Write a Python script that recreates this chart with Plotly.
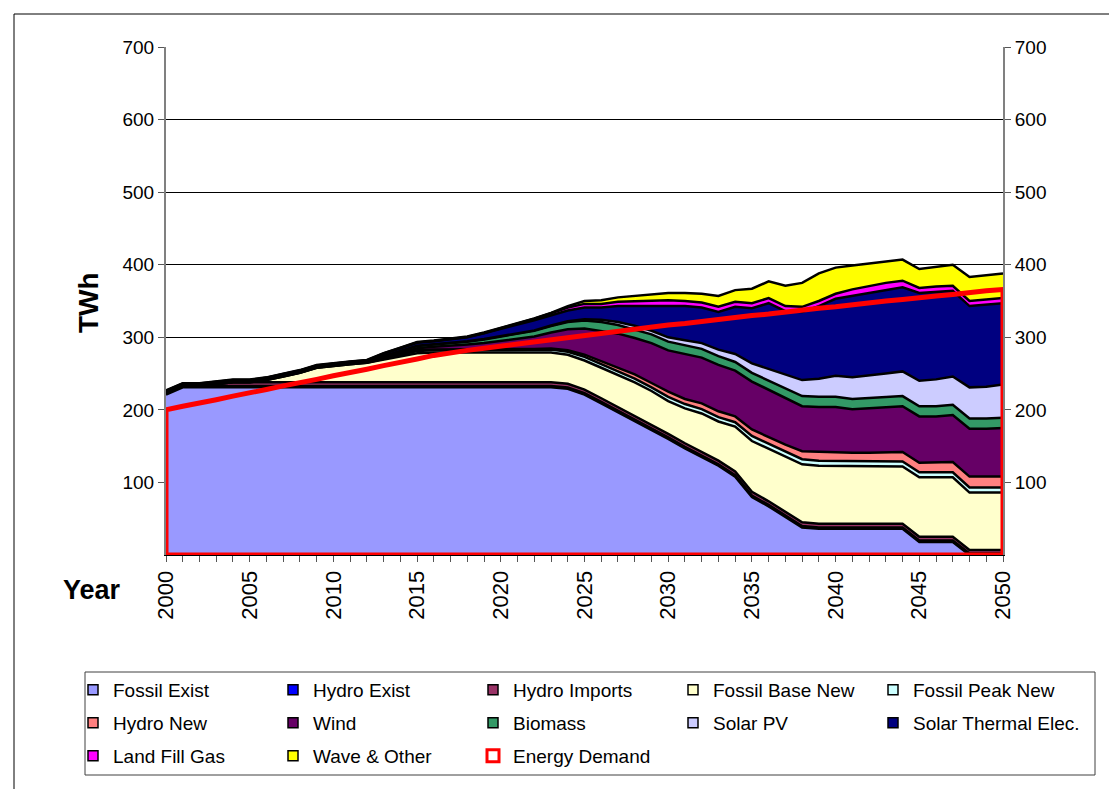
import plotly.graph_objects as go

years = list(range(2000, 2051))

fossil_exist = [221, 231, 231, 231, 231, 231, 231, 231, 231, 231,
                231, 231, 231, 231, 231, 231, 231, 231, 231, 231,
                231, 231, 231, 231, 229, 221, 209, 197, 185, 172,
                160, 147, 135, 123, 108, 80, 67, 53, 38, 36,
                36, 36, 36, 36, 36, 18, 18, 18, 0, 0,
                0]
hydro_exist = [2, 2, 2, 2, 2, 2, 2, 2, 2, 2,
               2, 2, 2, 2, 2, 2, 2, 2, 2, 2,
               2, 2, 2, 2, 2, 2, 2, 2, 2, 2,
               2, 2, 2, 2, 2, 2, 2, 2, 2, 2,
               2, 2, 2, 2, 2, 2, 2, 2, 2, 2,
               2]
hydro_imports = [0, 0, 0, 2, 5, 5, 5, 5, 5, 5,
                 5, 5, 5, 5, 5, 5, 5, 5, 5, 5,
                 5, 5, 5, 5, 5, 5, 5, 5, 5, 5,
                 5, 5, 5, 5, 5, 5, 5, 5, 5, 5,
                 5, 5, 5, 5, 5, 5, 5, 5, 5, 5,
                 5]
fossil_base_new = [0, 0, 0, 0, 0, 0, 3, 8, 13, 20,
                   23, 25, 27, 31, 35, 40, 41, 41, 41, 41,
                   41, 41, 41, 41, 40, 40, 42, 44, 46, 47,
                   45, 48, 53, 54, 62, 70, 72, 75, 80, 80,
                   80, 79, 79, 79, 79, 82, 82, 82, 79, 79,
                   79]
fossil_peak_new = [0, 0, 0, 0, 0, 0, 0, 0, 0, 0,
                   0, 0, 0, 1, 2, 3, 3, 3, 3, 3,
                   3, 4, 4, 4, 4, 5, 5, 5, 5, 5,
                   6, 6, 6, 6, 6, 7, 7, 7, 7, 7,
                   7, 7, 7, 7, 7, 7, 7, 7, 7, 7,
                   7]
hydro_new = [0.5, 0.5, 0.5, 0.5, 0.5, 0.5, 0.5, 0.5, 0.5, 0.5,
             0.5, 0.5, 0.5, 0.7, 0.8, 1, 1, 1, 1, 1,
             1, 1, 1, 1.5, 2, 3, 4, 5, 6, 6,
             7, 7, 8, 8, 8, 9, 9, 10, 11, 12,
             12, 12, 12, 12, 13, 13, 13, 14, 15, 15,
             15]
wind = [0.6, 0.6, 0.6, 0.6, 0.6, 0.6, 0.6, 0.6, 0.6, 0.6,
        0.6, 0.6, 0.6, 1.5, 2.2, 3, 4, 5, 7, 9,
        12, 14, 17, 22, 29, 36, 42, 47, 50, 55,
        57, 62, 63, 64, 63, 66, 66, 65, 62, 62,
        62, 60, 61, 62, 63, 64, 64, 65, 66, 66,
        67]
biomass = [0.6, 0.6, 0.6, 0.6, 0.6, 0.6, 0.6, 0.6, 0.6, 0.6,
           0.6, 0.6, 0.6, 1.5, 2.2, 3, 3, 3.5, 4, 5,
           6, 7, 8, 9, 10, 11, 12, 12, 12, 12,
           12, 12, 12, 12, 12, 12, 12, 12, 14, 14,
           14, 14, 14, 14, 14, 14, 14, 14, 14, 14,
           14]
solar_pv = [0.5, 0.5, 0.5, 0.5, 0.5, 0.5, 0.5, 0.5, 0.5, 0.5,
            0.5, 0.5, 0.5, 0.5, 0.5, 0.5, 0.5, 0.5, 0.5, 0.5,
            0.5, 0.5, 0.5, 0.7, 1, 2, 3, 4, 5, 5,
            6, 7, 8, 9, 11, 13, 16, 19, 22, 25,
            29, 30, 31, 33, 34, 35, 37, 39, 43, 44,
            46]
solar_thermal = [0.6, 0.6, 0.6, 0.6, 0.6, 0.6, 0.6, 0.6, 0.6, 0.6,
                 0.6, 0.6, 0.6, 3, 4, 4, 4, 5, 5.5, 8,
                 10.5, 12, 14, 14, 15, 16, 17, 22, 27, 34,
                 44, 47, 49, 52, 65, 76, 91, 88, 94, 100,
                 106, 112, 115, 116, 116, 121, 121, 118, 112, 113,
                 112]
land_fill_gas = [0.5, 0.5, 0.5, 0.5, 0.5, 0.5, 0.5, 0.5, 0.5, 0.5,
                 0.5, 0.5, 0.5, 0.5, 0.5, 0.5, 0.5, 0.5, 0.5, 0.5,
                 0.5, 1, 2, 3, 4, 5, 5, 6, 7, 7,
                 7, 7, 7, 7, 7, 7, 7, 7, 7, 7,
                 7, 9, 9, 9, 9, 7, 7, 7, 7, 7,
                 7]
wave_other = [0.5, 0.5, 0.5, 0.5, 0.5, 0.5, 0.5, 0.5, 0.5, 0.5,
              0.5, 0.5, 0.5, 0.5, 0.5, 0.5, 0.5, 0.5, 0.5, 0.5,
              0.5, 0.5, 0.5, 0.5, 2, 4, 5, 6, 7, 8,
              10, 11, 12, 15, 16, 20, 23, 28, 33, 38,
              36, 33, 31, 30, 29, 26, 27, 29, 33, 33,
              34]
energy_demand = [200, 205, 209, 214, 219, 223, 228, 233, 237, 242,
                 247, 251, 256, 261, 265, 270, 275, 279, 282, 285,
                 288, 291, 294, 297, 300, 303, 305, 308, 311, 314,
                 317, 319, 322, 325, 327, 330, 332, 335, 337, 340,
                 342, 345, 347, 350, 352, 355, 357, 359, 362, 364,
                 366]

series_names = ["Fossil Exist", "Hydro Exist", "Hydro Imports", "Fossil Base New",
                "Fossil Peak New", "Hydro New", "Wind", "Biomass", "Solar PV",
                "Solar Thermal Elec.", "Land Fill Gas", "Wave & Other"]
series_values = [fossil_exist, hydro_exist, hydro_imports, fossil_base_new,
                 fossil_peak_new, hydro_new, wind, biomass, solar_pv,
                 solar_thermal, land_fill_gas, wave_other]
series_colors = ["#9999FF", "#0000FF", "#993366", "#FFFFCC", "#CCFFFF", "#FF8080",
                 "#660066", "#339966", "#CCCCFF", "#000080", "#FF00FF", "#FFFF00"]
demand_name = "Energy Demand"

y_ticks = [100, 200, 300, 400, 500, 600, 700]

FONT = "Liberation Sans, Arial, sans-serif"

# page body has an 8px margin: figure origin sits at screen (8, 8)
OFF = 8
SW, SH = 1117, 789
PL, PR, PT, PB = 166, 1003, 47, 555          # plot area in screen pixels
pw, ph = PR - PL, PB - PT


def px(x):
    return (x - PL) / pw


def py(y):
    return (PB - y) / ph


fig = go.Figure()

for name, vals, col in zip(series_names, series_values, series_colors):
    fig.add_trace(go.Scatter(
        x=years, y=vals, name=name, stackgroup="s", mode="lines",
        line=dict(color="black", width=2.5), fillcolor=col,
        showlegend=False, hoverinfo="skip", legend="legend"))

# energy demand drawn as an unfilled area outline
fig.add_trace(go.Scatter(
    x=[years[0]] + years + [years[-1], years[0]],
    y=[0] + energy_demand + [0, 0],
    mode="lines", line=dict(color="#FF0000", width=5),
    showlegend=False, hoverinfo="skip", yaxis="y2"))

# legend entries (Excel-style square keys): rows of 5, last column separate
legend_ids = ["legend", "legend", "legend", "legend", "legend4",
              "legend2", "legend2", "legend2", "legend2", "legend5",
              "legend3", "legend3"]
for name, col, lg in zip(series_names, series_colors, legend_ids):
    fig.add_trace(go.Scatter(
        x=[None], y=[None], mode="markers", name=name, legend=lg,
        marker=dict(symbol="square", size=10, color=col,
                    line=dict(color="black", width=1.5))))
fig.add_trace(go.Scatter(
    x=[None], y=[None], mode="markers", name=demand_name, legend="legend3",
    marker=dict(symbol="square", size=12, color="white",
                line=dict(color="#FF0000", width=3))))

LEG_X = 73
leg_font = dict(family=FONT, size=19, color="black")
leg_common = dict(orientation="h", xanchor="left", yanchor="middle",
                  font=leg_font, bgcolor="rgba(0,0,0,0)", borderwidth=0,
                  entrywidth=155, entrywidthmode="pixels", traceorder="normal",
                  itemclick=False, itemdoubleclick=False)
leg_single = dict(orientation="h", xanchor="left", yanchor="middle",
                  font=leg_font, bgcolor="rgba(0,0,0,0)", borderwidth=0,
                  traceorder="normal", itemclick=False, itemdoubleclick=False)

fig.update_layout(
    width=SW - OFF, height=SH - OFF,
    margin=dict(l=PL - OFF, r=SW - PR, t=PT - OFF, b=SH - PB, pad=0),
    paper_bgcolor="white", plot_bgcolor="white",
    font=dict(family=FONT, size=19, color="black"),
    showlegend=True,
    legend=dict(x=px(LEG_X), y=py(690), **leg_common),
    legend2=dict(x=px(LEG_X), y=py(723), **leg_common),
    legend3=dict(x=px(LEG_X), y=py(756), **leg_common),
    legend4=dict(x=px(LEG_X + 800), y=py(690), **leg_single),
    legend5=dict(x=px(LEG_X + 800), y=py(723), **leg_single),
    xaxis=dict(range=[2000, 2050], tickmode="linear", tick0=2000, dtick=5,
               tickangle=-90, ticks="outside", ticklen=6, tickcolor="#555555",
               minor=dict(dtick=1, ticks="outside", ticklen=6, tickcolor="#555555"),
               showline=True, linecolor="black", linewidth=1,
               showgrid=False, zeroline=False,
               tickfont=dict(family=FONT, size=22)),
    yaxis=dict(range=[0, 700], tickvals=y_ticks, ticks="outside", ticklen=6,
               tickcolor="#555555", showline=True, linecolor="#808080", linewidth=2,
               showgrid=True, gridcolor="black", gridwidth=1, zeroline=False,
               tickfont=dict(family=FONT, size=19)),
    yaxis2=dict(range=[0, 700], tickvals=y_ticks, overlaying="y", side="right",
                ticks="outside", ticklen=6, tickcolor="#555555",
                showline=True, linecolor="#808080", linewidth=2,
                showgrid=False, zeroline=False,
                tickfont=dict(family=FONT, size=19)),
    annotations=[
        dict(text="<b>TWh</b>", x=px(88), y=py(303), xref="paper", yref="paper",
             xanchor="center", yanchor="middle",
             showarrow=False, textangle=-90, font=dict(family=FONT, size=28)),
        dict(text="<b>Year</b>", x=px(92), y=py(590), xref="paper", yref="paper",
             xanchor="center", yanchor="middle",
             showarrow=False, font=dict(family=FONT, size=27)),
    ],
    shapes=[
        dict(type="rect", xref="paper", yref="paper",
             x0=px(85), x1=px(1095), y0=py(775), y1=py(672),
             line=dict(color="#404040", width=1), fillcolor="rgba(0,0,0,0)"),
        dict(type="rect", xref="paper", yref="paper",
             x0=px(14), x1=px(1130), y0=py(800), y1=py(14),
             line=dict(color="black", width=1), fillcolor="rgba(0,0,0,0)"),
    ],
)

fig.write_html("out.html")
